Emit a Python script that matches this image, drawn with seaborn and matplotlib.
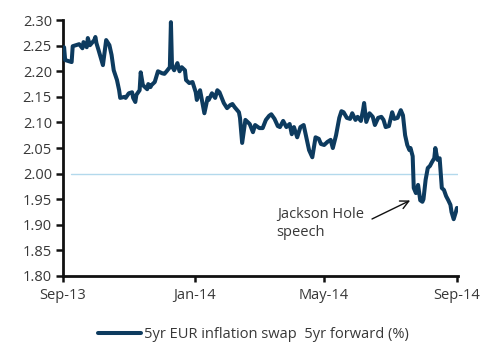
import numpy as np
import pandas as pd
import matplotlib
matplotlib.use("Agg")
import matplotlib.pyplot as plt
import matplotlib.dates as mdates
import seaborn as sns

# 5yr EUR inflation swap 5yr forward
dates = [
    "2013-09-02", "2013-09-03", "2013-09-06", "2013-09-09", "2013-09-10", "2013-09-13",
    "2013-09-16", "2013-09-19", "2013-09-20", "2013-09-23", "2013-09-24", "2013-09-26",
    "2013-09-30", "2013-10-01", "2013-10-02", "2013-10-04", "2013-10-08", "2013-10-10",
    "2013-10-11", "2013-10-14", "2013-10-16", "2013-10-18", "2013-10-21", "2013-10-23",
    "2013-10-24", "2013-10-28", "2013-10-29", "2013-11-01", "2013-11-04", "2013-11-05",
    "2013-11-07", "2013-11-08", "2013-11-11", "2013-11-12", "2013-11-14", "2013-11-18",
    "2013-11-19", "2013-11-21", "2013-11-22", "2013-11-25", "2013-11-28", "2013-12-02",
    "2013-12-04", "2013-12-06", "2013-12-09", "2013-12-10", "2013-12-11", "2013-12-13",
    "2013-12-16", "2013-12-18", "2013-12-20", "2013-12-23", "2013-12-24", "2013-12-27",
    "2013-12-30", "2014-01-02", "2014-01-03", "2014-01-06", "2014-01-07", "2014-01-10",
    "2014-01-13", "2014-01-14", "2014-01-17", "2014-01-20", "2014-01-22", "2014-01-24",
    "2014-01-28", "2014-01-31", "2014-02-03", "2014-02-05", "2014-02-07", "2014-02-11",
    "2014-02-12", "2014-02-14", "2014-02-17", "2014-02-19", "2014-02-21", "2014-02-24",
    "2014-02-26", "2014-03-02", "2014-03-05", "2014-03-08", "2014-03-11", "2014-03-13",
    "2014-03-16", "2014-03-19", "2014-03-21", "2014-03-24", "2014-03-27", "2014-03-30",
    "2014-04-01", "2014-04-03", "2014-04-06", "2014-04-09", "2014-04-12", "2014-04-15",
    "2014-04-17", "2014-04-20", "2014-04-23", "2014-04-26", "2014-04-28", "2014-05-01",
    "2014-05-04", "2014-05-07", "2014-05-09", "2014-05-12", "2014-05-15", "2014-05-17",
    "2014-05-19", "2014-05-22", "2014-05-25", "2014-05-27", "2014-05-30", "2014-06-01",
    "2014-06-04", "2014-06-06", "2014-06-07", "2014-06-09", "2014-06-12", "2014-06-15",
    "2014-06-17", "2014-06-20", "2014-06-23", "2014-06-25", "2014-06-27", "2014-06-30",
    "2014-07-03", "2014-07-05", "2014-07-08", "2014-07-11", "2014-07-13", "2014-07-15",
    "2014-07-17", "2014-07-19", "2014-07-20", "2014-07-22", "2014-07-23", "2014-07-25",
    "2014-07-27", "2014-07-29", "2014-07-31", "2014-08-01", "2014-08-03", "2014-08-05",
    "2014-08-07", "2014-08-09", "2014-08-11", "2014-08-12", "2014-08-14", "2014-08-16",
    "2014-08-18", "2014-08-20", "2014-08-22", "2014-08-24", "2014-08-26", "2014-08-27",
    "2014-08-29", "2014-08-31", "2014-09-01",
]
values = [
    2.247, 2.222, 2.220, 2.218, 2.249, 2.251,
    2.253, 2.245, 2.257, 2.247, 2.265, 2.251,
    2.261, 2.267, 2.255, 2.241, 2.212, 2.245,
    2.261, 2.251, 2.232, 2.202, 2.183, 2.163,
    2.148, 2.150, 2.148, 2.157, 2.159, 2.148,
    2.140, 2.154, 2.163, 2.198, 2.173, 2.165,
    2.175, 2.169, 2.173, 2.179, 2.200, 2.196,
    2.195, 2.200, 2.208, 2.296, 2.210, 2.202,
    2.216, 2.200, 2.208, 2.202, 2.183, 2.177,
    2.179, 2.159, 2.144, 2.163, 2.152, 2.118,
    2.148, 2.144, 2.157, 2.148, 2.163, 2.159,
    2.138, 2.128, 2.134, 2.136, 2.130, 2.120,
    2.109, 2.060, 2.105, 2.101, 2.097, 2.081,
    2.095, 2.089, 2.089, 2.105, 2.113, 2.116,
    2.107, 2.093, 2.091, 2.103, 2.091, 2.097,
    2.077, 2.091, 2.071, 2.091, 2.095, 2.066,
    2.046, 2.032, 2.071, 2.068, 2.058, 2.056,
    2.062, 2.066, 2.050, 2.075, 2.109, 2.122,
    2.120, 2.109, 2.107, 2.118, 2.105, 2.111,
    2.103, 2.124, 2.138, 2.101, 2.118, 2.111,
    2.095, 2.109, 2.111, 2.105, 2.091, 2.093,
    2.120, 2.107, 2.109, 2.124, 2.114, 2.075,
    2.056, 2.046, 2.050, 2.034, 1.972, 1.962,
    1.978, 1.948, 1.945, 1.950, 1.988, 2.011,
    2.015, 2.023, 2.030, 2.050, 2.027, 2.030,
    1.972, 1.968, 1.956, 1.948, 1.939, 1.925,
    1.911, 1.925, 1.933,
]
series_label = "5yr EUR inflation swap  5yr forward (%)"
x_ticks = ["2013-09-01", "2014-01-01", "2014-05-01", "2014-09-01"]
y_ticks = [1.80, 1.85, 1.90, 1.95, 2.00, 2.05, 2.10, 2.15, 2.20, 2.25, 2.30]
ref_level = 2.00

df = pd.DataFrame({"date": pd.to_datetime(dates), "value": values})

sns.set_style("white")
plt.rcParams["font.family"] = ["Open Sans", "DejaVu Sans"]
text_col = "#383838"
line_col = "#0d3b5f"

fig = plt.figure(figsize=(5.0, 3.51), dpi=100)
ax = fig.add_axes([0.126, 0.2137, 0.79, 0.729])

# reference line at 2.00
ax.plot(pd.to_datetime(["2013-09-08", "2014-09-10"]), [ref_level, ref_level],
        color="#b3d9ec", lw=1.0, zorder=1)

sns.lineplot(data=df, x="date", y="value", ax=ax, color=line_col, lw=2.9,
             label=series_label, zorder=3)

ax.set_xlim(pd.Timestamp("2013-09-01"), pd.Timestamp("2014-09-02"))
ax.set_ylim(1.80, 2.30)
ax.set_yticks(y_ticks)
ax.set_yticklabels([f"{v:.2f}" for v in y_ticks])
ax.set_xticks(pd.to_datetime(x_ticks))
ax.xaxis.set_major_formatter(mdates.DateFormatter("%b-%y"))
ax.set_xlabel("")
ax.set_ylabel("")

for s in ["top", "right"]:
    ax.spines[s].set_visible(False)
for s in ["left", "bottom"]:
    ax.spines[s].set_color("#111111")
    ax.spines[s].set_linewidth(2.0)
ax.tick_params(axis="y", direction="out", length=5, width=1.8, color="#111111",
               labelsize=10.5, labelcolor=text_col, pad=3, left=True)
ax.tick_params(axis="x", direction="out", length=4, width=1.8, color="#111111",
               labelsize=10.5, labelcolor=text_col, pad=5, bottom=True)
ax.grid(False)

# Jackson Hole annotation
ax.annotate("", xy=(pd.Timestamp("2014-07-22"), 1.950),
            xytext=(pd.Timestamp("2014-06-12"), 1.909),
            arrowprops=dict(arrowstyle="->", color="#111111", lw=1.0,
                            mutation_scale=15))
ax.text(pd.Timestamp("2014-03-18"), 1.935, "Jackson Hole\nspeech", ha="left", va="top",
        fontsize=10.5, color=text_col, linespacing=1.25)

ax.get_legend().remove()
fig.legend(*ax.get_legend_handles_labels(), loc="center", bbox_to_anchor=(0.507, 0.046),
           frameon=False, handlelength=3.0, handletextpad=0.2, fontsize=10.5,
           labelcolor=text_col)

fig.savefig("out.png", dpi=100)
